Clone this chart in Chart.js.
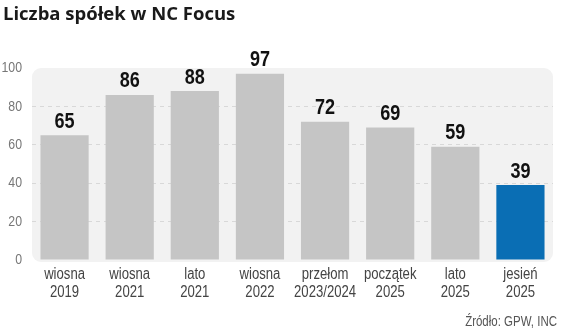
<!DOCTYPE html>
<html>
<head>
<meta charset="utf-8">
<script src="https://cdn.jsdelivr.net/npm/chart.js@4"></script>
<style>
  html, body { margin: 0; padding: 0; background: #fff; }
  #wrap { width: 564px; height: 334px; position: relative; }
</style>
</head>
<body>
<div id="wrap"><canvas id="chart" width="564" height="334"></canvas></div>
<script>
// --- dane ---
const okresy = [
  ["wiosna", "2019"], ["wiosna", "2021"], ["lato", "2021"], ["wiosna", "2022"],
  ["przełom", "2023/2024"], ["początek", "2025"], ["lato", "2025"], ["jesień", "2025"]
];
const liczbaSpolek = [65, 86, 88, 97, 72, 69, 59, 39];
const osY = [0, 20, 40, 60, 80, 100];

const TYTUL = "Liczba spółek w NC Focus";
const ZRODLO = "Źródło: GPW, INC";

const FONT = '"Liberation Sans", Arial, sans-serif';
const SZARY = "#c5c5c5";
const NIEBIESKI = "#0a6eb4";

const kolory = liczbaSpolek.map((v, i) => i === liczbaSpolek.length - 1 ? NIEBIESKI : SZARY);

// tekst "zwężony" (jak Arial Narrow) – skala pozioma 0.82
function napisWaski(ctx, txt, x, y, align) {
  ctx.save();
  ctx.translate(x, y);
  ctx.scale(0.82, 1);
  ctx.textAlign = align;
  ctx.fillText(txt, 0, 0);
  ctx.restore();
}

// tło obszaru wykresu (zaokrąglony prostokąt)
const tloPlugin = {
  id: "tlo",
  beforeDraw(chart) {
    const { ctx, chartArea: a } = chart;
    ctx.save();
    ctx.fillStyle = "#f2f2f2";
    ctx.beginPath();
    ctx.roundRect(a.left, a.top, a.right - a.left, a.bottom - a.top + 2, 9);
    ctx.fill();
    ctx.restore();
  }
};

// etykiety osi, wartości, tytuł i źródło
const tekstPlugin = {
  id: "teksty",
  afterDatasetsDraw(chart) {
    const { ctx } = chart;
    const sx = chart.scales.x, sy = chart.scales.y;
    const meta = chart.getDatasetMeta(0);
    ctx.save();

    // wartości nad słupkami
    ctx.fillStyle = "#111";
    ctx.font = "bold 22px " + FONT;
    ctx.textBaseline = "alphabetic";
    meta.data.forEach((bar, i) => {
      napisWaski(ctx, String(liczbaSpolek[i]), bar.x, bar.y - 7.5, "center");
    });

    // oś Y
    ctx.fillStyle = "#777";
    ctx.font = "15px " + FONT;
    ctx.textBaseline = "middle";
    osY.forEach(v => napisWaski(ctx, String(v), 22, sy.getPixelForValue(v), "right"));

    // oś X
    ctx.fillStyle = "#444";
    ctx.font = "16px " + FONT;
    okresy.forEach((lab, i) => {
      const x = sx.getPixelForTick(i);
      napisWaski(ctx, lab[0], x, sy.bottom + 15, "center");
      napisWaski(ctx, lab[1], x, sy.bottom + 33, "center");
    });

    // tytuł
    ctx.textBaseline = "alphabetic";
    ctx.textAlign = "left";
    ctx.font = "bold 18.5px 'Open Sans', sans-serif";
    ctx.fillStyle = "#1a1a1a";
    ctx.fillText(TYTUL, 3, 20);

    // źródło
    ctx.fillStyle = "#555";
    ctx.font = "14px " + FONT;
    ctx.textBaseline = "middle";
    napisWaski(ctx, ZRODLO, 557, 322, "right");
    ctx.restore();
  }
};

new Chart(document.getElementById("chart"), {
  type: "bar",
  data: {
    labels: okresy,
    datasets: [{
      data: liczbaSpolek,
      backgroundColor: kolory,
      borderWidth: 0,
      barPercentage: 0.74,
      categoryPercentage: 1
    }]
  },
  options: {
    responsive: false,
    animation: false,
    layout: { padding: { top: 68, right: 11, left: 0, bottom: 0 } },
    plugins: { legend: { display: false }, tooltip: { enabled: false } },
    scales: {
      x: {
        grid: { display: false, drawTicks: false },
        border: { display: false },
        ticks: { display: false, autoSkip: false },
        afterFit(s) { s.height = 74; }
      },
      y: {
        min: 0,
        max: 100,
        afterBuildTicks(s) { s.ticks = osY.map(v => ({ value: v })); },
        grid: {
          drawTicks: false,
          color: (c) => (c.tick.value === 0 || c.tick.value === 100) ? "rgba(0,0,0,0)" : "#d8d8d8",
          lineWidth: 1
        },
        border: { display: false, dash: [4, 4] },
        ticks: { display: false },
        afterFit(s) { s.width = 32; }
      }
    }
  },
  plugins: [tloPlugin, tekstPlugin]
});
</script>
</body>
</html>
